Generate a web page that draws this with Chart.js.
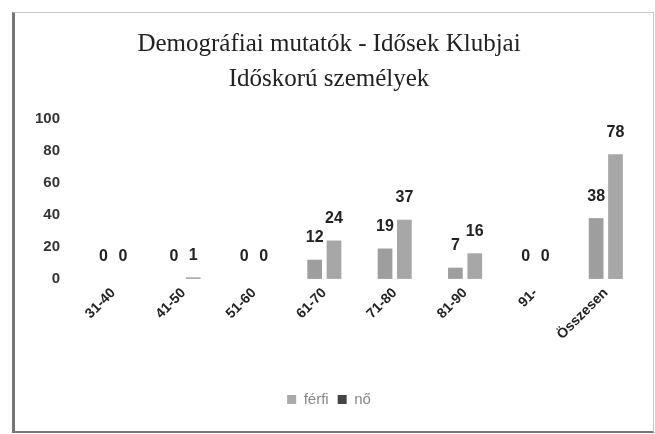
<!DOCTYPE html>
<html>
<head>
<meta charset="utf-8">
<script src="https://cdn.jsdelivr.net/npm/chart.js@4.4.1/dist/chart.umd.min.js"></script>
<style>
  html, body { margin: 0; padding: 0; background: #fff; }
  #frame {
    position: absolute; left: 12px; top: 12px; width: 638px; height: 418px;
    border: 1px solid #c8c8c8; border-left: 3px solid #777; border-bottom: 2px solid #777;
  }
  #wrap { position: absolute; left: 0; top: 0; width: 638px; height: 418px; }
</style>
</head>
<body>
<div id="frame"><div id="wrap"><canvas id="chart"></canvas></div></div>
<script>
// Categories & series
const ageGroups = ["31-40", "41-50", "51-60", "61-70", "71-80", "81-90", "91-", "Összesen"];
const ferfi = [0, 0, 0, 12, 19, 7, 0, 38];
const no = [0, 1, 0, 24, 37, 16, 0, 78];
const yTicks = [0, 20, 40, 60, 80, 100];

// Value labels above bars
const valueLabels = {
  id: "valueLabels",
  afterDatasetsDraw(chart) {
    const ctx = chart.ctx;
    ctx.save();
    ctx.font = "bold 16px 'Liberation Sans', Arial, sans-serif";
    ctx.fillStyle = "#222";
    ctx.textAlign = "center";
    ctx.textBaseline = "middle";
    chart.data.datasets.forEach((ds, i) => {
      chart.getDatasetMeta(i).data.forEach((bar, j) => {
        ctx.fillText(ds.data[j], bar.x, bar.y - 22);
      });
    });
    ctx.restore();
  }
};

new Chart(document.getElementById("chart"), {
  type: "bar",
  data: {
    labels: ageGroups,
    datasets: [
      { label: "férfi", data: ferfi, backgroundColor: "#9e9e9e", categoryPercentage: 0.55, barPercentage: 0.76 },
      { label: "nő", data: no, backgroundColor: "#a7a7a7", categoryPercentage: 0.55, barPercentage: 0.76 }
    ]
  },
  options: {
    responsive: true,
    maintainAspectRatio: false,
    animation: false,
    layout: { padding: { left: 2, right: 12, top: 0, bottom: 14 } },
    plugins: {
      title: {
        display: true,
        text: ["Demográfiai mutatók - Idősek Klubjai", "Időskorú személyek"],
        color: "#222",
        font: { family: "'Liberation Serif', 'Times New Roman', serif", size: 25, weight: "normal", lineHeight: 1.4 },
        padding: { top: 14, bottom: 22 }
      },
      legend: {
        position: "bottom",
        labels: {
          boxWidth: 9, boxHeight: 9,
          color: "#888",
          font: { family: "'Liberation Sans', Arial, sans-serif", size: 15 },
          padding: 9,
          generateLabels(chart) {
            const base = Chart.defaults.plugins.legend.labels.generateLabels(chart);
            base[0].fillStyle = "#aaa"; base[0].strokeStyle = "#aaa";
            base[1].fillStyle = "#444"; base[1].strokeStyle = "#444";
            return base;
          }
        }
      },
      tooltip: { enabled: false }
    },
    scales: {
      x: {
        grid: { display: false, drawTicks: false },
        border: { display: false },
        afterFit(axis) { axis.height += 34; },
        ticks: {
          color: "#222",
          font: { family: "'Liberation Sans', Arial, sans-serif", size: 14, weight: "bold" },
          minRotation: 45, maxRotation: 45, padding: 6
        }
      },
      y: {
        min: 0, max: 100,
        afterBuildTicks(axis) { axis.ticks = yTicks.map(v => ({ value: v })); },
        grid: { display: false, drawTicks: false },
        border: { display: false },
        ticks: {
          color: "#333",
          font: { family: "'Liberation Sans', Arial, sans-serif", size: 15, weight: "bold" },
          padding: 18
        }
      }
    }
  },
  plugins: [valueLabels]
});
</script>
</body>
</html>
